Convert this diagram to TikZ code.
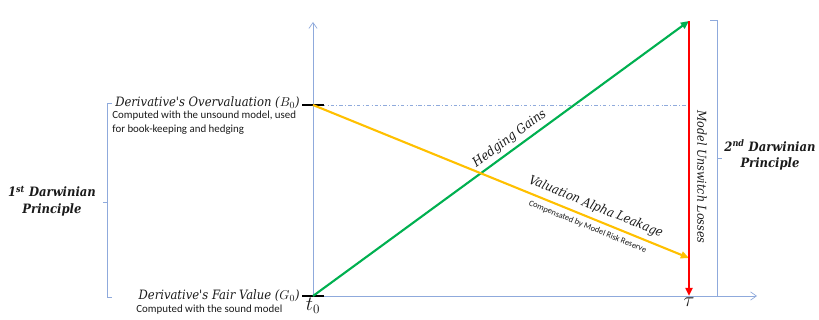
\documentclass[tikz,border=0pt]{standalone}
\usepackage{fontspec}
\newfontfamily\calibri{Carlito}
\newfontfamily\cambria{DejaVu Serif Condensed}
\usetikzlibrary{arrows.meta}

\definecolor{axisblue}{HTML}{8FAADC}
\definecolor{hedgegreen}{HTML}{00B050}
\definecolor{leakyellow}{HTML}{FFC000}
\definecolor{lossred}{HTML}{FF0000}
\definecolor{inktext}{HTML}{1A1A1A}

\tikzset{
  axe/.style={axisblue, line width=0.6pt, -{Straight Barb[length=5pt,width=7pt]}},
  fleche/.style={line width=1.8pt, -{Triangle[length=7pt,width=6pt]}},
  repere/.style={black, line width=1.6pt},
  accolade/.style={axisblue, line width=0.6pt},
  titre/.style={text=inktext, font=\cambria\fontsize{11}{13}\selectfont\itshape, inner sep=1pt},
  note/.style={text=inktext, font=\calibri\fontsize{9.3}{11.5}\selectfont, inner sep=1pt, align=left},
  principe/.style={text=inktext, font=\cambria\fontsize{11}{14}\selectfont\bfseries\itshape, align=center, inner sep=1pt}
}

\begin{document}
\begin{tikzpicture}[x=0.03cm, y=-0.03cm]

% Cadre
\useasboundingbox (0,0) rectangle (819,320);

% Paramètres
\def\xo{313}
\def\xtau{689}

% Points
\coordinate (O) at (\xo,296);
\coordinate (Ytop) at (\xo,22);
\coordinate (Xend) at (757,296);
\coordinate (B) at (\xo,105);
\coordinate (Gtop) at (\xtau,21);
\coordinate (Tau) at (\xtau,296);
\coordinate (Bend) at (\xtau,258);

% Axes
\draw[axe] (O) -- (Ytop);
\draw[axe] (O) -- (Xend);
\draw[axisblue, line width=0.5pt, dash dot] (B) -- (\xtau,105);

% Repères
\draw[repere] ([xshift=-9]B) -- ([xshift=9]B);
\draw[repere] ([xshift=-9]O) -- ([xshift=9]O);
\node[text=inktext, font=\fontsize{16}{18}\selectfont, anchor=north] (t0) at ([yshift=2]O) {$t_0$};
\node[text=inktext, font=\fontsize{16}{18}\selectfont, anchor=north] (tau) at ([yshift=2]Tau) {$\tau$};

% Flèches
\draw[fleche, hedgegreen] (O) -- (Gtop)
  node[pos=0.54, sloped, above=2pt, titre] (hedge) {Hedging Gains};
\draw[fleche, leakyellow] (B) -- (Bend)
  node[pos=0.74, sloped, above=3pt, titre, font=\cambria\fontsize{10.8}{12}\selectfont\itshape] (leak) {Valuation Alpha Leakage}
  node[pos=0.74, sloped, below=3pt, note, font=\calibri\fontsize{7.2}{8}\selectfont] (reserve) {Compensated by Model Risk Reserve};
\draw[fleche, lossred, line width=2.2pt] (Gtop) -- (Tau);
\node[titre, font=\cambria\fontsize{10.5}{12}\selectfont\itshape, rotate=-90] (losses) at (702,177) {Model Unswitch Losses};

% Valeurs à t0
\node[titre, anchor=east] (overval) at (301,103) {Derivative's Overvaluation ($B_0$)};
\node[note, anchor=north west] (overnote) at (111,110) {Computed with the unsound model, used\\for book-keeping and hedging};
\node[titre, anchor=east] (fair) at (301,296) {Derivative's Fair Value ($G_0$)};
\node[note, anchor=north west] (fairnote) at (135,304) {Computed with the sound model};

% Accolades
\draw[accolade] (112,103) -- (107,103) -- (107,297) -- (112,297);
\draw[accolade] (107,202) -- (103,202);
\draw[accolade] (710,20) -- (717,20) -- (717,296) -- (710,296);
\draw[accolade] (717,158) -- (722,158);

% Principes
\node[principe] (first) at (52,201) {1\textsuperscript{st} Darwinian\\Principle};
\node[principe] (second) at (770,155) {2\textsuperscript{nd} Darwinian\\Principle};

\end{tikzpicture}
\end{document}
